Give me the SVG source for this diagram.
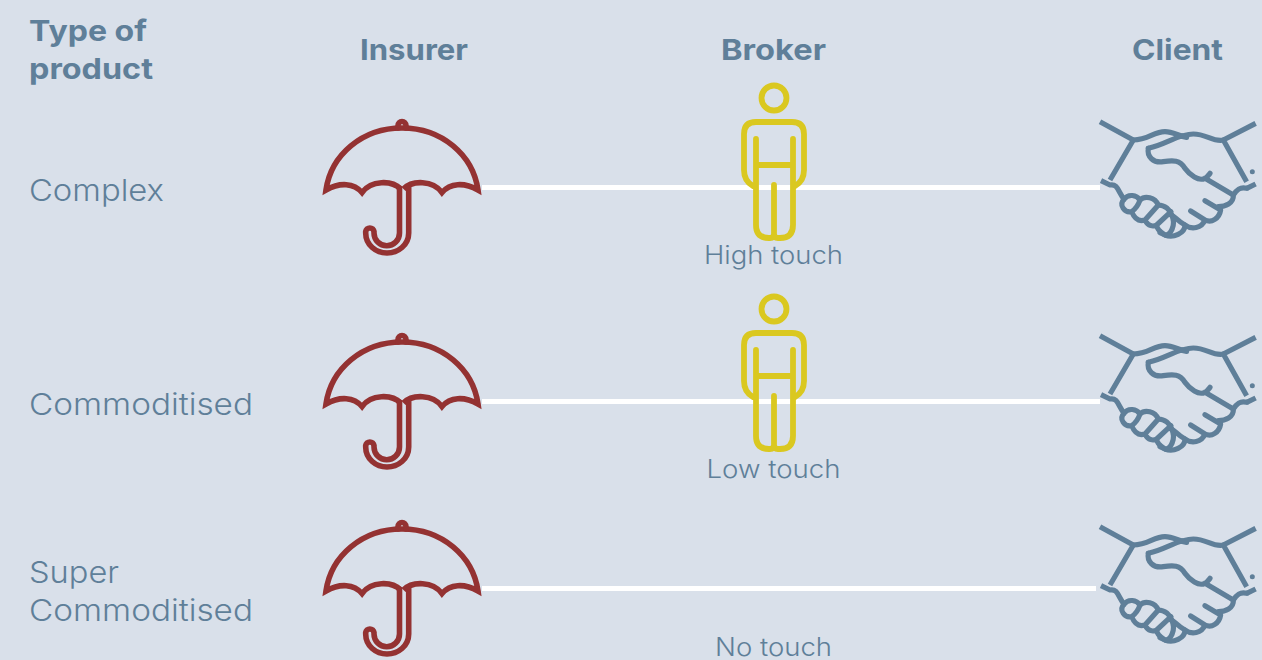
<svg xmlns="http://www.w3.org/2000/svg" width="1262" height="660" viewBox="0 0 1262 660">
<style>
text{font-family:"Inter","Liberation Sans",sans-serif;fill:#5f7f99}
.h{font-size:29px;font-weight:700}
.r{font-size:30px;font-weight:300}
.t{font-size:25px;font-weight:300;text-anchor:middle}
.u,.p,.c{fill:none;stroke-linecap:round;stroke-linejoin:round}
.u{stroke:#943232;stroke-width:5.600}
.p{stroke:#dac820;stroke-width:5.800}
.c{stroke:#5f7f99;stroke-width:15.500}
.l{stroke:#fff;stroke-width:5;fill:none}
</style>
<defs>
<g id="umbrella" class="u">
<path d="M400.500 189C392 180 371 180 362 192.500C354 183 340 182 326 190C331 155 362 128 402 128C442 128 473 155 478 190C464 182 450 183 442 192.500C433 180 412 180 403.500 189" stroke-linejoin="miter" stroke-linecap="butt"/>
<path d="M398 128V125.500A4 4 0 0 1 406 125.500V128" />
<path d="M399.500 188V233A12.700 12.700 0 0 1 374 233V231.500A4.200 4.200 0 0 0 365.700 231.500V233C365.700 245 376 253 387 253C398 253 408.700 245 408.700 233V188"/>
</g>
<g id="person" class="p">
<circle cx="774" cy="98" r="12.500"/>
<path d="M753 186C746 182 744 176 744 170V134Q744 122 756 122H792Q804 122 804 134V170C804 176 802 182 795 186"/>
<path d="M756 139V225Q756 238 769 238H770Q774 238 774 234V185M774 234Q774 238 778 238H780Q793 238 793 225V139M756 165H793"/>
</g>
<g id="shake" class="c" transform="translate(1090 110) scale(.3333)">
<path d="M30 35L130 90L60 210M400 90L497 40M400 90L470 215M33 212L60 225C85 220 85 250 103 268M470 235L497 222" stroke-linecap="butt"/>
<path d="M130 90C175 90 190 65 225 65C250 65 265 78 290 82M175 115C235 100 265 72 310 72C350 72 370 97 400 90"/>
<path d="M175 115C170 140 190 160 220 155C250 150 270 150 285 175C300 195 325 215 345 205C352 202 356 195 360 190M345 205L430 255C440 240 450 230 470 235"/>
<path d="M430 255C432 280 405 290 385 290M345 272L392 300C388 325 365 340 345 330M302 303L345 330C335 355 305 360 285 345C285 370 250 385 225 375L210 368"/>
<path d="M102 268C115 250 140 255 150 270C165 255 195 262 205 285C225 285 240 300 245 315C255 320 265 335 285 345"/>
<path d="M102 268C85 285 105 310 125 305C135 298 145 285 150 270M125 305C135 330 150 335 165 330L205 285M165 330C175 350 190 350 200 345L243 305M200 345C200 360 215 368 225 375C240 378 260 345 245 315"/>
<circle cx="487" cy="185" r="7.500" fill="#5f7f99" stroke="none"/>
</g>
</defs>
<rect width="1262" height="660" fill="#d9e0ea"/>
<g id="connectors">
<path class="l" d="M482 187.500H1100M482 401.500H1100M482 588.500H1096"/>
</g>
<g id="headers">
<text class="h" x="29" y="41" textLength="118" lengthAdjust="spacingAndGlyphs">Type of</text>
<text class="h" x="29" y="79" textLength="124" lengthAdjust="spacingAndGlyphs">product</text>
<text class="h" x="360" y="60" textLength="108" lengthAdjust="spacingAndGlyphs">Insurer</text>
<text class="h" x="721" y="60" textLength="105" lengthAdjust="spacingAndGlyphs">Broker</text>
<text class="h" x="1132" y="60" textLength="91" lengthAdjust="spacingAndGlyphs">Client</text>
</g>
<g id="row-labels">
<text class="r" x="29" y="201" textLength="135" lengthAdjust="spacingAndGlyphs">Complex</text>
<text class="r" x="29" y="415" textLength="224" lengthAdjust="spacingAndGlyphs">Commoditised</text>
<text class="r" x="29" y="583" textLength="90" lengthAdjust="spacingAndGlyphs">Super</text>
<text class="r" x="29" y="621" textLength="224" lengthAdjust="spacingAndGlyphs">Commoditised</text>
</g>
<g id="insurer-1"><use href="#umbrella"/></g>
<g id="insurer-2"><use href="#umbrella" y="214"/></g>
<g id="insurer-3"><use href="#umbrella" y="401"/></g>
<g id="broker-1"><use href="#person"/></g>
<g id="broker-2"><use href="#person" y="211"/></g>
<g id="client-1"><use href="#shake"/></g>
<g id="client-2"><use href="#shake" y="214"/></g>
<g id="client-3"><use href="#shake" y="405"/></g>
<g id="touch-labels">
<text class="t" x="773.500" y="264" textLength="139" lengthAdjust="spacingAndGlyphs">High touch</text>
<text class="t" x="773.500" y="478" textLength="134" lengthAdjust="spacingAndGlyphs">Low touch</text>
<text class="t" x="773.500" y="656" textLength="117" lengthAdjust="spacingAndGlyphs">No touch</text>
</g>
</svg>
